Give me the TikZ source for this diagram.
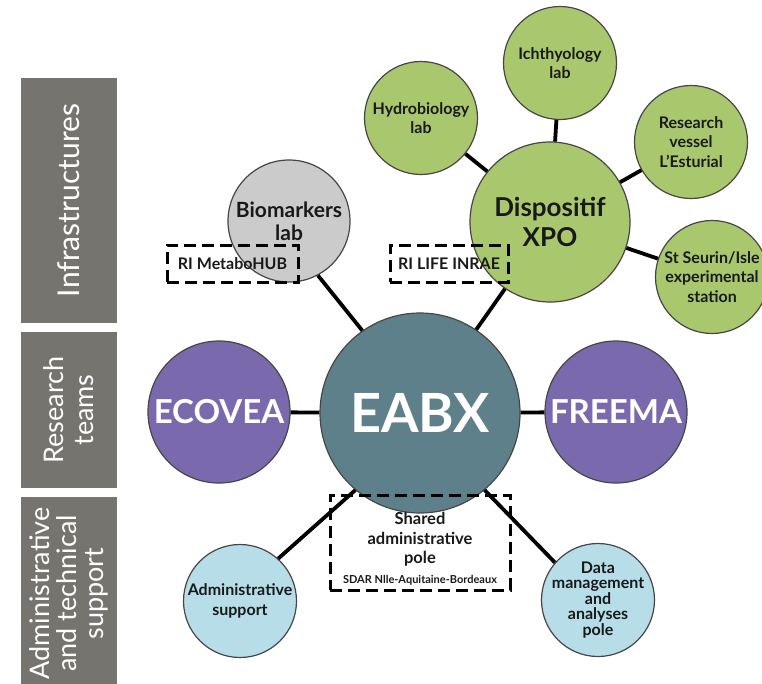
\documentclass[tikz,border=0pt]{standalone}
\usepackage{fontspec}
\setmainfont{Lato}
\definecolor{panelgray}{RGB}{118,116,111}
\definecolor{eabxteal}{RGB}{94,128,138}
\definecolor{teampurple}{RGB}{122,106,173}
\definecolor{xpogreen}{RGB}{169,200,110}
\definecolor{supportblue}{RGB}{183,221,233}
\definecolor{biogray}{RGB}{203,203,203}
\definecolor{circleline}{RGB}{70,70,70}
\definecolor{textdark}{RGB}{25,25,25}

\begin{document}
\begin{tikzpicture}[x=1pt, y=-1pt, line width=3.8pt,
	every node/.style={circle, draw=circleline, line width=1.2pt, inner sep=-10pt, align=center, text=textdark},
	hub/.style={fill=eabxteal, minimum size=200pt, text=white, font=\fontsize{54}{60}\selectfont\bfseries},
	team/.style={fill=teampurple, minimum size=142pt, text=white, font=\fontsize{33}{38}\selectfont\bfseries},
	infra/.style={fill=xpogreen, minimum size=113pt, font=\fontsize{16}{19.5}\selectfont\bfseries},
	support/.style={fill=supportblue, minimum size=113pt, font=\fontsize{16}{20}\selectfont\bfseries},
	panel/.style={rectangle, draw=none, fill=panelgray, text=white, inner sep=0pt, rotate=90},
	dashbox/.style={rectangle, draw=black, fill=none, line width=3pt, dash pattern=on 12pt off 6pt, inner sep=0pt, font=\fontsize{16}{19}\selectfont\bfseries}]
	\useasboundingbox (0,0) rectangle (762,683);

	\node (infrapanel) at (69,200.5) [panel, minimum width=245pt, minimum height=96pt, font=\fontsize{30}{34}\selectfont] {Infrastructures};
	\node (teampanel) at (69,410) [panel, minimum width=156pt, minimum height=96pt, font=\fontsize{27}{30}\selectfont] {Research\\teams};
	\node (supportpanel) at (69,593.5) [panel, minimum width=193pt, minimum height=96pt, font=\fontsize{27}{27}\selectfont] {Administrative\\and technical\\support};

	\node (eabx) at (420,413) [hub] {EABX};
	\node (eco) at (219,412) [team] {ECOVEA};
	\node (free) at (616,412) [team] {FREEMA};

	\node (bio) at (289,221) [infra, fill=biogray, minimum size=122pt, font=\fontsize{21}{23}\selectfont\bfseries] {Biomarkers\\lab};
	\node (xpo) at (550,222) [infra, minimum size=160pt, font=\fontsize{26}{30}\selectfont\bfseries] {Dispositif\\XPO};
	\node (hydro) at (421,118) [infra] {Hydrobiology\\lab};
	\node (ichthy) at (560,63) [infra] {Ichthyology\\lab};
	\node (vessel) at (691,142) [infra] {Research\\vessel\\L'Esturial};
	\node (seurin) at (712,277) [infra] {St Seurin/Isle\\experimental\\station};

	\node (adm) at (240,601) [support] {Administrative\\support};
	\node (data) at (598,600) [support, font=\fontsize{16}{15.5}\selectfont\bfseries] {Data\\management\\and\\analyses\\pole};

	\draw[-] (eco) to (eabx);
	\draw[-] (eabx) to (free);
	\draw[-] (eabx.125) to (bio.-62);
	\draw[-] (eabx.56) to (xpo.-124);
	\draw[-] (eabx.230) to (adm.48);
	\draw[-] (eabx.-50) to (data.139);
	\draw[-] (xpo) to (hydro);
	\draw[-] (xpo) to (ichthy);
	\draw[-] (xpo) to (vessel);
	\draw[-] (xpo) to (seurin);

	\node (metabo) at (232.5,263.5) [dashbox, minimum width=131pt, minimum height=37pt] {RI MetaboHUB};
	\node (life) at (449,263.5) [dashbox, minimum width=118pt, minimum height=37pt] {RI LIFE INRAE};
	\node (pole) at (420,542.5) [dashbox, minimum width=180pt, minimum height=95pt] {};
	\node (poletxt) at (420,549) [rectangle, draw=none, inner sep=0pt, font=\fontsize{16.5}{19.5}\selectfont\bfseries] {Shared\\administrative\\pole\\{\fontsize{11}{12}\selectfont SDAR Nlle-Aquitaine-Bordeaux}};
\end{tikzpicture}
\end{document}
